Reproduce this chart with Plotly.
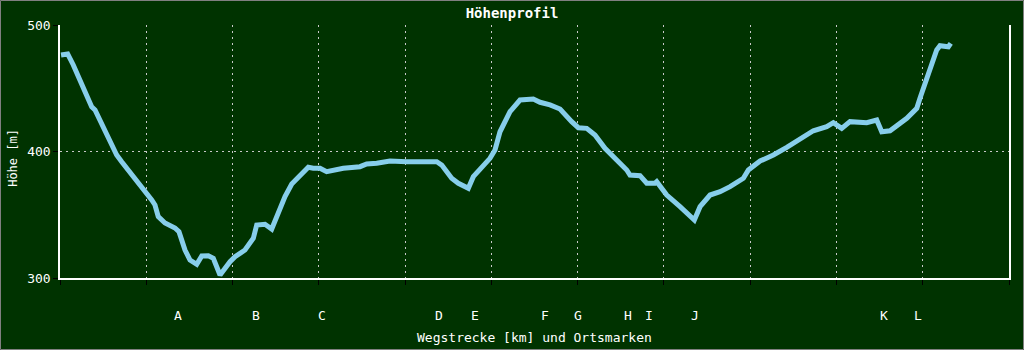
import plotly.graph_objects as go

distance_km = [0.012, 0.089, 0.154, 0.232, 0.367, 0.406, 0.522, 0.560, 0.599, 0.657,
               0.715, 0.869, 0.947, 1.063, 1.101, 1.139, 1.217, 1.333, 1.379, 1.449,
               1.507, 1.585, 1.643, 1.719, 1.777, 1.855, 1.971, 2.029, 2.144, 2.241,
               2.280, 2.376, 2.454, 2.512, 2.608, 2.686, 2.782, 2.878, 2.936, 3.014,
               3.091, 3.207, 3.284, 3.477, 3.555, 3.671, 3.825, 4.019, 4.367, 4.425,
               4.540, 4.617, 4.733, 4.791, 4.868, 4.984, 5.042, 5.100, 5.216, 5.332,
               5.486, 5.564, 5.680, 5.796, 5.931, 6.008, 6.105, 6.201, 6.317, 6.414,
               6.569, 6.607, 6.723, 6.801, 6.897, 6.917, 7.033, 7.187, 7.353, 7.419,
               7.535, 7.651, 7.767, 7.921, 7.979, 8.115, 8.269, 8.424, 8.579, 8.732,
               8.887, 8.964, 9.061, 9.157, 9.351, 9.467, 9.525, 9.621, 9.815, 9.931,
               9.969, 10.085, 10.162, 10.200, 10.297, 10.325]
elevation_m = [476.3, 477.1, 468.4, 456.5, 435.4, 432.8, 417.0, 411.7, 406.7, 397.2,
               391.9, 379.1, 372.2, 361.7, 357.7, 348.5, 343.5, 339.5, 336.6, 322.1,
               314.2, 310.8, 317.4, 317.6, 315.6, 302.4, 312.9, 316.8, 322.1, 331.4,
               341.9, 342.5, 338.7, 348.5, 364.3, 374.3, 380.6, 387.5, 386.7, 386.7,
               384.0, 385.4, 386.7, 388.0, 390.1, 390.7, 392.5, 391.9, 391.9, 389.3,
               378.8, 374.9, 370.9, 380.1, 385.4, 394.6, 401.2, 415.6, 431.5, 440.7,
               441.5, 438.9, 436.8, 433.6, 423.6, 418.8, 418.3, 413.0, 402.5, 395.9,
               385.4, 381.4, 380.9, 374.9, 374.9, 376.1, 365.6, 356.4, 345.8, 356.4,
               365.6, 368.2, 372.2, 378.8, 385.4, 392.5, 397.2, 403.3, 410.4, 416.4,
               419.6, 422.8, 418.3, 423.6, 422.8, 424.9, 415.6, 416.4, 426.2, 434.1,
               442.3, 464.4, 480.2, 483.6, 482.8, 485.5]

# Place markers (Ortsmarken)
marker_labels = ["A", "B", "C", "D", "E", "F", "G", "H", "I", "J", "K", "L"]
marker_km = [1.368, 2.272, 3.036, 4.397, 4.810, 5.622, 6.008, 6.580, 6.831, 7.357, 9.551, 9.942]

x_ticks = list(range(0, 12))
y_ticks = [300, 400, 500]

BG = "#003300"
LINE = "#87CEEB"
FONT = "DejaVu Sans Mono"
GRID_DASH = "2px,4px"

fig = go.Figure()
fig.add_trace(go.Scatter(x=distance_km, y=elevation_m, mode="lines",
                         line=dict(color=LINE, width=5), hoverinfo="skip",
                         showlegend=False))

annotations = []
for lab, km in zip(marker_labels, marker_km):
    annotations.append(dict(x=km, xref="x", y=-0.15, yref="paper", text=lab,
                            showarrow=False, xanchor="center", yanchor="middle",
                            font=dict(family=FONT, size=13, color="white")))
annotations.append(dict(x=0.5, xref="paper", y=-0.236, yref="paper",
                        text="Wegstrecke [km] und Ortsmarken", showarrow=False,
                        xanchor="center", yanchor="middle",
                        font=dict(family=FONT, size=13, color="white")))
annotations.append(dict(x=-0.0495, xref="paper", y=0.475, yref="paper",
                        text="Höhe [m]", showarrow=False, textangle=-90,
                        xanchor="center", yanchor="middle",
                        font=dict(family=FONT, size=12, color="white")))

W, H = 1024, 350
L, R, T, B = 60, 15, 25, 72
pw, ph = W - L - R, H - T - B

def px(xp):
    return (xp - L) / pw

def py(yp):
    return (H - B - yp) / ph

fig.update_layout(
    width=W, height=H,
    margin=dict(l=L, r=R, t=T, b=B),
    paper_bgcolor=BG, plot_bgcolor=BG,
    title=dict(text="<b>Höhenprofil</b>", x=0.5, xref="container", y=1 - 13 / H,
               yanchor="middle", xanchor="center",
               font=dict(family=FONT, size=14, color="white")),
    font=dict(family=FONT, size=12, color="white"),
    annotations=annotations,
    shapes=[dict(type="rect", xref="paper", yref="paper",
                 x0=px(0.5), x1=px(W - 0.5), y0=py(H - 0.5), y1=py(0.5),
                 line=dict(color="#808080", width=1), fillcolor="rgba(0,0,0,0)",
                 layer="above")],
    xaxis=dict(range=[0, 11], tickvals=x_ticks, showticklabels=False,
               ticks="outside", ticklen=5, tickcolor="black", tickwidth=1,
               showline=True, linecolor="white", linewidth=1.5,
               showgrid=True, gridcolor="#c8c8c8", griddash=GRID_DASH, gridwidth=1,
               zeroline=False, fixedrange=True),
    yaxis=dict(range=[300, 500], tickvals=y_ticks, ticktext=[str(v) for v in y_ticks],
               ticks="outside", ticklen=5, tickcolor="black", tickwidth=1,
               showline=True, mirror=True, linecolor="white", linewidth=1.5,
               showgrid=True, gridcolor="#c8c8c8", griddash=GRID_DASH, gridwidth=1,
               zeroline=False, fixedrange=True,
               tickfont=dict(family=FONT, size=13, color="white")),
)

fig.write_html("out.html")
